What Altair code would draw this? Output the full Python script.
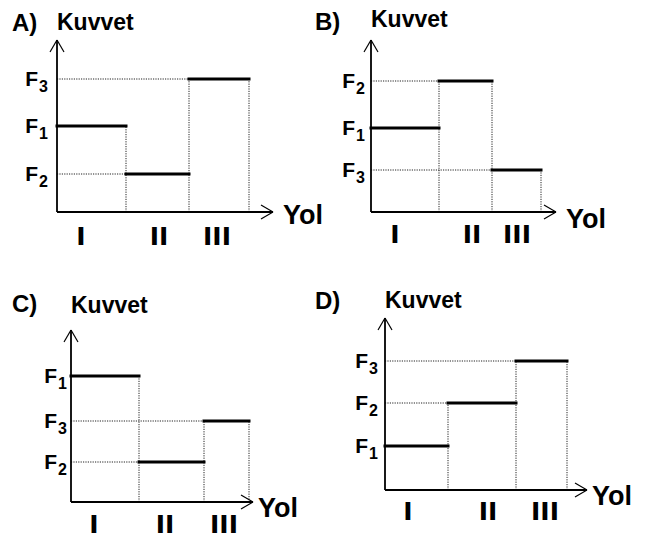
import altair as alt
import pandas as pd

# ---- data (arbitrary units: path along x, force along y) ----
panels = ["A", "B", "C", "D"]
force_subs = ["1", "2", "3"]          # F1, F2, F3 act in segments I, II, III
roman = ["I", "II", "III"]

levels_A = [86, 38, 133]              # F1, F2, F3 heights
levels_B = [84, 131, 42]
levels_C = [126, 40, 81]
levels_D = [44, 87, 129]

bounds_A = [69, 132, 192]             # ends of segments I, II, III
bounds_B = [68, 121, 170]
bounds_C = [68, 133, 178]
bounds_D = [63, 131, 182]

roman_A = [24, 102, 160]              # positions of the I, II, III labels
roman_B = [24, 101, 146]
roman_C = [23, 94, 153]
roman_D = [23, 103, 160]

xaxis_len = [216, 185, 182, 202]
yaxis_len = [172, 172, 172, 172]

# ---- layout (page placement of each panel) ----
layout = {
    "A": dict(ox=57, oy=212, lx=12, ly=31, ky=30, foff=19, ydx=10, ydy=12, rdy=33),
    "B": dict(ox=371, oy=212, lx=315, ly=30, ky=27, foff=16, ydx=10, ydy=16, rdy=31),
    "C": dict(ox=71, oy=502, lx=12, ly=312, ky=313, foff=14, ydx=5, ydy=15, rdy=31),
    "D": dict(ox=385, oy=490, lx=315, ly=309, ky=308, foff=17, ydx=5, ydy=15, rdy=30),
}

all_levels = [levels_A, levels_B, levels_C, levels_D]
all_bounds = [bounds_A, bounds_B, bounds_C, bounds_D]
all_roman = [roman_A, roman_B, roman_C, roman_D]

seg, dots, axes, arrows = [], [], [], []
t_letter, t_kuv, t_F, t_sub, t_yol, t_rom = [], [], [], [], [], []

for k, name in enumerate(panels):
    L = layout[name]
    ox, oy = L["ox"], L["oy"]
    lv, bd, rp = all_levels[k], all_bounds[k], all_roman[k]
    starts = [0] + bd[:-1]
    for i in range(3):
        yv = oy - lv[i]
        seg.append(dict(x=ox + starts[i], x2=ox + bd[i], y=yv, y2=yv))
        if i > 0:
            dots.append(dict(x=ox, x2=ox + starts[i], y=yv, y2=yv))
        top = max(lv[i], lv[i + 1]) if i < 2 else lv[i]
        dots.append(dict(x=ox + bd[i], x2=ox + bd[i], y=oy, y2=oy - top))
        t_F.append(dict(x=ox - L["foff"], y=yv + 7, text="F"))
        t_sub.append(dict(x=ox - L["foff"] + 1, y=yv + 13, text=force_subs[i]))
        t_rom.append(dict(x=ox + rp[i], y=oy + L["rdy"], text=roman[i]))
    xl, yl = xaxis_len[k], yaxis_len[k]
    axes.append(dict(x=ox, x2=ox + xl, y=oy, y2=oy))
    axes.append(dict(x=ox, x2=ox, y=oy, y2=oy - yl))
    tx, ty = ox + xl, oy
    arrows.append(dict(x=tx, y=ty, x2=tx - 12, y2=ty - 7))
    arrows.append(dict(x=tx, y=ty, x2=tx - 12, y2=ty + 7))
    tx, ty = ox, oy - yl
    arrows.append(dict(x=tx, y=ty, x2=tx - 7, y2=ty + 12))
    arrows.append(dict(x=tx, y=ty, x2=tx + 7, y2=ty + 12))
    t_letter.append(dict(x=L["lx"], y=L["ly"], text=name + ")"))
    t_kuv.append(dict(x=ox, y=L["ky"], text="Kuvvet"))
    t_yol.append(dict(x=ox + xl + L["ydx"], y=oy + L["ydy"], text="Yol"))

X = alt.X("x:Q", scale=alt.Scale(domain=[8, 646], nice=False, zero=False), axis=None)
Y = alt.Y("y:Q", scale=alt.Scale(domain=[8, 536], reverse=True, nice=False, zero=False), axis=None)


def rules(rows, **kw):
    return alt.Chart(pd.DataFrame(rows)).mark_rule(**kw).encode(
        x=X, y=Y, x2="x2:Q", y2="y2:Q")


def texts(rows, **kw):
    return alt.Chart(pd.DataFrame(rows)).mark_text(
        baseline="alphabetic", fontWeight="bold", color="black", **kw
    ).encode(x=X, y=Y, text="text:N")


FONT = "Liberation Sans"

chart = alt.layer(
    rules(dots, color="#222222", strokeWidth=1, strokeDash=[1.2, 1.2]),
    rules(axes, color="black", strokeWidth=1.8),
    rules(arrows, color="black", strokeWidth=1.2),
    rules(seg, color="black", strokeWidth=3, strokeCap="square"),
    texts(t_letter, align="left", font=FONT, fontSize=24),
    texts(t_kuv, align="left", font=FONT, fontSize=23),
    texts(t_F, align="right", font=FONT, fontSize=21),
    texts(t_sub, align="left", font=FONT, fontSize=16),
    texts(t_yol, align="left", font=FONT, fontSize=27),
    texts(t_rom, align="center", font="DejaVu Sans", fontSize=25),
).properties(
    width=638, height=528, padding=0, autosize=alt.AutoSizeParams(type="none")
).configure_view(stroke=None)

chart.save("out.html", embed_options={"renderer": "svg", "actions": False})
